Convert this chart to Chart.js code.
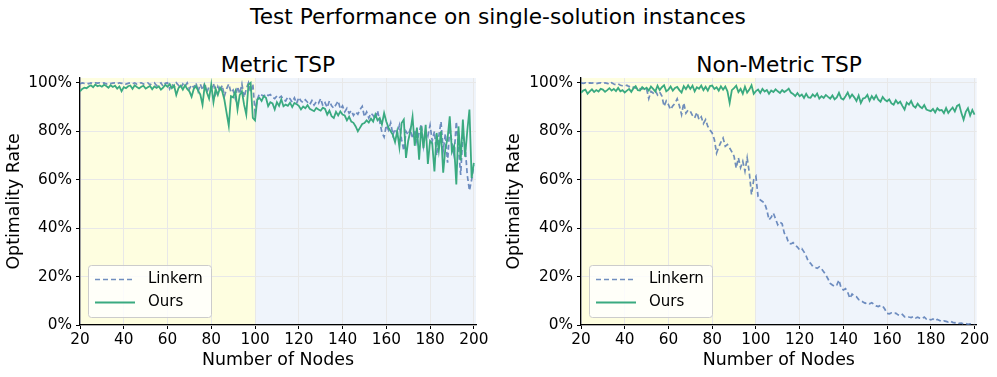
<!DOCTYPE html>
<html><head><meta charset="utf-8">
<script src="https://cdn.jsdelivr.net/npm/chart.js@4.4.1/dist/chart.umd.min.js"></script>
<style>
html,body{margin:0;padding:0;background:#fff;}
#wrap{position:relative;width:997px;height:377px;overflow:hidden;font-family:"DejaVu Sans";}
canvas{position:absolute;top:0;}
.t{position:absolute;font-size:21.7px;line-height:21.5px;white-space:nowrap;transform:translateX(-50%);color:#000;}
</style></head><body>
<div id="wrap">
<div class="t" style="left:498px;top:6px">Test Performance on single-solution instances</div>
<div class="t" style="left:278px;top:53.5px">Metric TSP</div>
<div class="t" style="left:779px;top:53.5px">Non-Metric TSP</div>
<canvas id="c1" style="left:0px" width="492" height="377"></canvas>
<canvas id="c2" style="left:500px" width="497" height="377"></canvas>
</div>
<script>
const nodes = [20,21,22,23,24,25,26,27,28,29,30,31,32,33,34,35,36,37,38,39,40,41,42,43,44,45,46,47,48,49,50,51,52,53,54,55,56,57,58,59,60,61,62,63,64,65,66,67,68,69,70,71,72,73,74,75,76,77,78,79,80,81,82,83,84,85,86,87,88,89,90,91,92,93,94,95,96,97,98,99,100,101,102,103,104,105,106,107,108,109,110,111,112,113,114,115,116,117,118,119,120,121,122,123,124,125,126,127,128,129,130,131,132,133,134,135,136,137,138,139,140,141,142,143,144,145,146,147,148,149,150,151,152,153,154,155,156,157,158,159,160,161,162,163,164,165,166,167,168,169,170,171,172,173,174,175,176,177,178,179,180,181,182,183,184,185,186,187,188,189,190,191,192,193,194,195,196,197,198,199,200];

const metricLinkern = [
99.5,100,99.8,100,99.6,100,99.7,100,99.9,100,
99.8,100,99.5,100,99.7,99.9,100,99.6,100,99.8,
100,99.5,99.8,100,99.6,100,99.4,99.9,100,99.5,
99.8,100,99.2,99.7,100,98.8,99.5,100,98.5,99.8,
100,97.5,99.6,98.2,100,99,97.8,99.5,98.5,100,
97.5,99.2,98,100,96.5,99.5,97,100,96,98.5,
97.5,99.8,95.5,98.5,96.5,99,94.5,97.5,99.5,96,
97,93.5,98.5,95.5,99.5,94,97.5,100,96,99.5,
88,93,95.5,95,94.5,95.5,94.8,95.2,94,93.5,
94.6,93.8,94.5,93,92.5,94.2,93.4,92,93.8,91.5,
94,92.5,91.8,93,92,91,92.7,90.8,92.2,91.5,
93.5,90.5,91.8,89.8,92.5,90.5,89.5,91,92.5,89.2,
90.5,88,89.5,87.5,88.5,86.5,88,87,89,90.3,
86,88,85.5,87.5,86.5,85,88.5,84,79.5,77.6,
82.5,80.5,83.5,78.5,81,79,82.5,76.5,72,80,
78.5,81,77,80.5,75.5,79.5,83,74,80,78,
82.5,76,80,70,78,84,72,79,67,82,
75,70,84,73,62,79,74,62,55.5,60,
66,68];

const metricOurs = [
96.5,97.5,98,97.8,98.5,99,98.2,99.3,98.6,98.9,
98.4,99.2,98.7,98,99,98.3,98.8,97.6,98.5,96.5,
98.2,97.8,98.6,98.9,97.5,99,98.3,97.7,98.4,98.8,
97.6,98.2,98.7,97.4,98.5,97.9,98.6,97.2,98,99.2,
98.4,99.5,97.8,98.9,95,97.8,98.8,97.2,99,97.5,
96.5,94.3,97.5,98.6,96.8,95.2,91,98.8,96,93.5,
99.3,92,97.5,95,98,96.5,93,87.6,82.3,94.5,
94,96.5,89,95,96.5,91,86.9,99.3,100,85.5,
84.5,93,93.8,92.5,94.5,93.8,90.4,92,91.5,89,
92,90.5,93.2,90.3,91,90.5,91.8,90,91.7,91.2,
90.5,89,90.2,89.5,90.8,89.3,88.8,88.3,89.6,89,
88.5,89.7,89.2,86.9,88.5,86.2,85.5,88,86.5,88.2,
86.9,86.5,84.5,86,84,83.5,82,80,81.5,83,
83.4,84.5,83.6,85.2,84,86.9,84.5,85.5,82.8,87.5,
84,81.5,80,78.5,75.5,80,73.4,83.4,84.8,69,
76,80,86,74,81.5,68.3,82,73,82.7,66.5,
76,75,63.4,79.3,72,80,62.9,73,77,86.2,
71.5,74,58,82,68,84.8,69.5,80,89,60.7,
67,63.4];

const nonMetricLinkern = [
100,99.8,100,99.6,100,99.9,100,99.7,99.9,100,
99.6,100,99.8,99.3,100,99.5,99.2,99.6,99,98.8,
98.6,99,98.4,98.8,98.2,97.8,98.3,97.6,97.5,98,
97.5,93.5,96.5,95.8,96.8,95,96.2,94.5,90.3,92.5,
91,89,90.5,91.5,93.4,90.5,86.9,91.7,87.5,88.8,
88.3,86.5,85.5,87.8,84.8,86,83.2,84.8,82,80.5,
79.3,76.6,71,73.5,75.5,77.2,73.8,74.5,73.1,71.5,
69.7,64.8,69,65,67.6,63.5,69,62.8,53.8,60,
61.4,53,51.7,51,50.3,47.5,43.4,44.5,46.2,43.8,
41.4,42.5,41.8,37.9,36.5,33.8,33.5,34,33,32.2,
31,31.5,30.2,28.5,26.2,25.5,24.2,23.8,23.4,24,
23.2,22,20.7,19,17.2,16.5,15.9,16.5,18.6,15.2,
14.5,15,13.5,11,12.8,12,11.7,10.5,10.2,9.5,
8.97,9.3,8.8,9.2,8.5,7.9,7.6,8.1,7.8,6.5,
4.8,4.6,5,4.7,4.9,4.2,3.8,4.4,3.4,3.6,
3.3,3.1,3.5,2.9,3.2,2.8,2.6,3.3,2.4,2.6,
2.1,2.5,1.8,2.3,1.9,1.4,1.7,1.5,1.2,1.6,
1.1,0.9,1.2,0.7,0.8,0.4,0.6,0.3,0.5,0.2,
0];

const nonMetricOurs = [
95.9,96.8,97.2,95.5,96.5,97.3,96.2,97,96.4,97.5,
97.2,96.3,97,97.8,96.8,97.5,96.6,97.9,96.5,97,
96,96.8,97.5,96.3,97.8,98.6,97,96.8,98.2,97.4,
98,96.8,98.5,97.5,96.4,98.8,97,98.2,99,96.5,
97.2,98.5,96.8,97.9,98.3,97,96,98.6,97.4,99,
97.5,98.8,96.5,98.2,97.6,98.9,97,98.4,96.8,98.7,
98.9,97.5,98.2,96.8,98.6,97.2,98.5,96.5,91.7,97,
97.8,98.8,96.2,97.5,95.5,98.4,96,97.2,99,95.5,
96.6,97.2,95.8,97.5,96.4,97,95.5,96.8,96.2,97.3,
96.5,95.8,97,96.2,96.8,97.6,96,95.4,94.5,95.8,
94.5,95.2,93.8,95.5,94,93.8,95.2,94.3,95.6,93.5,
94.5,93.8,95,94.2,93.5,94.8,93.2,94,95.9,93.6,
93.1,94.5,96,93.8,95.2,94,92.5,94.8,91.7,93.5,
93.8,95,92.6,94.5,93.2,94.8,93,92.2,94.2,93,
92.4,93.2,91.5,91,92.8,91.5,92.2,90.5,89,91.8,
91,92.5,90.5,89.8,91.4,90.2,89.5,90.8,89,88.6,
88.3,89.2,87.8,89.5,88.6,88.8,87.5,89.6,87.6,88.8,
89.8,88.2,90.5,91,87.5,84.8,88,89.5,86.5,88.8,
86.9];

const xTicks = [20,40,60,80,100,120,140,160,180,200];
const yTicks = [0,20,40,60,80,100];
const regionEdges = [20,100,201];
const seriesNames = ['Linkern','Ours'];

const FONT = '"DejaVu Sans"';
const LINK_COLOR = 'rgba(76,114,176,0.8)';
const OURS_COLOR = '#3aaa80';

const bandsPlugin = {
  id:'bands',
  beforeDraw(chart){
    const {ctx, chartArea:a, scales:{x}} = chart;
    const p0 = x.getPixelForValue(regionEdges[0]);
    const p1 = x.getPixelForValue(regionEdges[1]);
    const p2 = x.getPixelForValue(regionEdges[2]);
    ctx.save();
    ctx.fillStyle = '#fefee0';
    ctx.fillRect(p0, a.top, p1-p0, a.bottom-a.top);
    ctx.fillStyle = '#eff4fb';
    ctx.fillRect(p1, a.top, p2-p1, a.bottom-a.top);
    ctx.restore();
  }
};

const legendPlugin = {
  id:'innerLegend',
  afterDatasetsDraw(chart){
    const {ctx, chartArea:a} = chart;
    const bx = a.left + 8, by = a.bottom - 60, bw = 123, bh = 52;
    ctx.save();
    ctx.beginPath();
    ctx.roundRect(bx+0.5, by+0.5, bw, bh, 3);
    ctx.fillStyle = 'rgba(255,255,255,0.8)';
    ctx.fill();
    ctx.strokeStyle = '#cccccc';
    ctx.lineWidth = 1;
    ctx.stroke();
    const ds = [chart.data.datasets.find(d=>d.label===seriesNames[0]), chart.data.datasets.find(d=>d.label===seriesNames[1])];
    ds.forEach((d,i)=>{
      const y = by + 14.5 + i*23;
      ctx.beginPath();
      ctx.setLineDash(d.borderDash || []);
      ctx.strokeStyle = d.borderColor;
      ctx.lineWidth = d.borderWidth;
      ctx.moveTo(bx+7, y); ctx.lineTo(bx+47, y);
      ctx.stroke();
      ctx.setLineDash([]);
      ctx.fillStyle = '#000';
      ctx.font = '15px ' + FONT;
      ctx.textBaseline = 'middle';
      ctx.textAlign = 'left';
      ctx.fillText(d.label, bx+60, y);
    });
    ctx.restore();
  }
};

function pts(vals){ return nodes.map((n,i)=>({x:n, y:vals[i]})); }

function makeChart(id, linkern, ours, yWidth, padRight){
  return new Chart(document.getElementById(id), {
    type:'line',
    data:{datasets:[
      {label:seriesNames[0], data:pts(linkern), borderColor:LINK_COLOR, borderWidth:1.7, borderDash:[5,3], pointRadius:0, tension:0, fill:false, order:1},
      {label:seriesNames[1], data:pts(ours), borderColor:OURS_COLOR, borderWidth:1.8, pointRadius:0, tension:0, fill:false, order:0}
    ]},
    options:{
      responsive:false, animation:false, devicePixelRatio:1,
      layout:{padding:{left:0, right:padRight, top:78, bottom:0}},
      plugins:{legend:{display:false}, tooltip:{enabled:false}, title:{display:false}},
      scales:{
        x:{type:'linear', min:20, max:201,
          afterBuildTicks:s=>{ s.ticks = xTicks.map(v=>({value:v})); },
          afterFit:s=>{ s.height = 52; },
          ticks:{font:{family:FONT,size:15.3}, color:'#000', padding:2, maxRotation:0, autoSkip:false},
          grid:{color:'#e8e8e8', lineWidth:1, tickLength:4, tickColor:'#000', drawTicks:true},
          border:{display:true, color:'#000', width:1.3},
          title:{display:true, text:'Number of Nodes', font:{family:FONT,size:17.4}, color:'#000', padding:{top:0,bottom:6.5}}
        },
        y:{type:'linear', min:0, max:102,
          afterBuildTicks:s=>{ s.ticks = yTicks.map(v=>({value:v})); },
          afterFit:s=>{ s.width = yWidth; },
          ticks:{font:{family:FONT,size:15.3}, color:'#000', padding:4, callback:v=>v+'%'},
          grid:{color:'#e8e8e8', lineWidth:1, tickLength:4, tickColor:'#000', drawTicks:true},
          border:{display:true, color:'#000', width:1.3},
          title:{display:true, text:'Optimality Rate', font:{family:FONT,size:17.4}, color:'#000', padding:{top:4.5,bottom:0}}
        }
      }
    },
    plugins:[bandsPlugin, legendPlugin]
  });
}

makeChart('c1', metricLinkern, metricOurs, 80, 16);
makeChart('c2', nonMetricLinkern, nonMetricOurs, 81, 20.3);
</script>
</body></html>
